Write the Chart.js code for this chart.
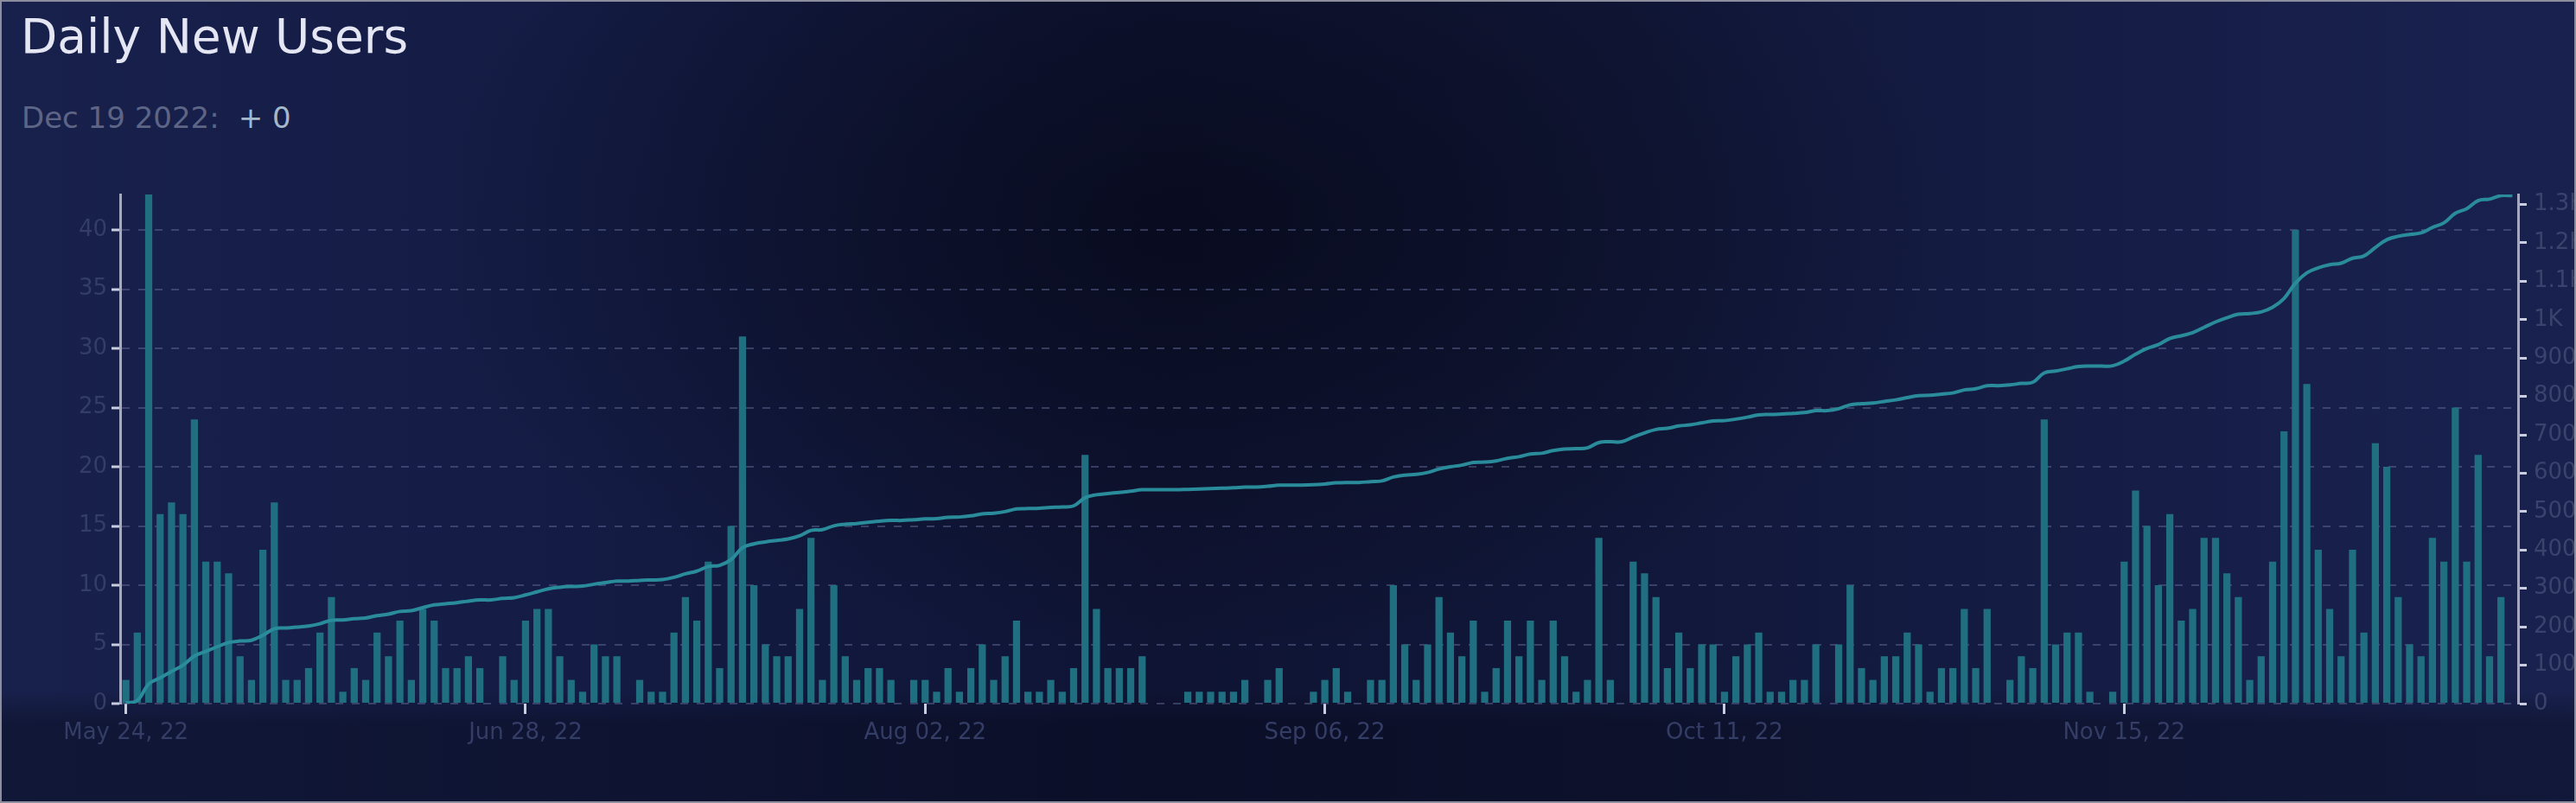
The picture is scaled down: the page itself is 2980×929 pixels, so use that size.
<!DOCTYPE html>
<html>
<head>
<meta charset="utf-8">
<title>Daily New Users</title>
<script src="https://cdn.jsdelivr.net/npm/chart.js@4.4.1/dist/chart.umd.min.js"></script>
<style>
  html, body { margin: 0; padding: 0; }
  body { width: 2980px; height: 929px; overflow: hidden; background: #10153a; }
  .frame {
    position: relative; width: 2980px; height: 929px; overflow: hidden;
    background:
      radial-gradient(ellipse 900px 500px at 46% 28%, rgba(6, 8, 22, 0.7) 0%, rgba(6, 8, 22, 0) 100%),
      linear-gradient(to bottom, rgba(4, 5, 16, 0) 0%, rgba(4, 5, 16, 0) 86%, rgba(4, 5, 16, 0.35) 90%, rgba(4, 5, 16, 0.35) 100%),
      linear-gradient(to right, #18214c 0%, #141c45 22%, #0f1434 45%, #111739 62%, #161e48 85%, #19224f 100%);
  }
  .edge { position: absolute; left: 0; top: 0; right: 0; bottom: 0; box-sizing: border-box; border: 2px solid #8c8e9e; pointer-events: none; }
  .title { position: absolute; left: 24px; top: 15px; font: 55px/1 "DejaVu Sans", sans-serif; color: #e4e6f4; white-space: nowrap; }
  .sub { position: absolute; left: 25px; top: 119px; font: 34px/1 "DejaVu Sans", sans-serif; color: #5d6586; white-space: nowrap; }
  .sub b { font-weight: normal; color: #a3b8cb; margin-left: 22px; }
  #usersChart { position: absolute; left: 0; top: 190px; }
</style>
</head>
<body>
<div class="frame">
  <div class="title">Daily New Users</div>
  <div class="sub">Dec 19 2022:<b>+ 0</b></div>
  <canvas id="usersChart" width="2980" height="739"></canvas>
  <div class="edge"></div>
</div>
<script>
// daily new users, one bar per day from May 24 2022
var dailyUsers = [2,6,43,16,17,16,24,12,12,11, 4,2,13,17,2,2,3,6,9,1, 3,2,6,4,7,2,8,7,3,3,
  4,3,0,4,2,7,8,8,4,2, 1,5,4,4,0,2,1,1,6,9, 7,12,3,15,31,10,5,4,4,8, 14,2,10,4,2,3,3,2,0,2,
  2,1,3,1,3,5,2,4,7,1, 1,2,1,3,21,8,3,3,3,4, 0,0,0,1,1,1,1,1,2,0, 2,3,0,0,1,2,3,1,0,2,
  2,10,5,2,5,9,6,4,7,1, 3,7,4,7,2,7,4,1,2,14, 2,0,12,11,9,3,6,3,5,5, 1,4,5,6,1,1,2,2,5,0,
  5,10,3,2,4,4,6,5,1,3, 3,8,3,8,0,2,4,3,24,5, 6,6,1,0,1,12,18,15,10,16, 7,8,14,14,11,9,2,4,12,23,
  40,27,13,8,4,13,6,22,20,9, 5,4,14,12,25,12,21,4,9,0];

// total users line (right axis)
var totalUsers = [2,8,51,67,84,100,124,136,148,159, 163,165,178,195,197,199,202,208,217,218,
  221,223,229,233,240,242,250,257,260,263, 267,270,270,274,276,283,291,299,303,305,
  306,311,315,319,319,321,322,323,329,338, 345,357,360,375,406,416,421,425,429,437,
  451,453,463,467,469,472,475,477,477,479, 481,482,485,486,489,494,496,500,507,508,
  509,511,512,515,536,544,547,550,553,557, 557,557,557,558,559,560,561,562,564,564,
  566,569,569,569,570,572,575,576,576,578, 580,590,595,597,602,611,617,621,628,629,
  632,639,643,650,652,659,663,664,666,680, 682,682,694,705,714,717,723,726,731,736,
  737,741,746,752,753,754,756,758,763,763, 768,778,781,783,787,791,797,802,803,806,
  809,817,820,828,828,830,834,837,861,866, 872,878,879,879,880,892,910,925,935,951,
  958,966,980,994,1005,1014,1016,1020,1032,1055, 1095,1122,1135,1143,1147,1160,1166,1188,1208,1217,
  1222,1226,1240,1252,1277,1289,1310,1314,1323,1323];

// dates shown under the x axis
var tickLabels = ['May 24, 22', 'Jun 28, 22', 'Aug 02, 22', 'Sep 06, 22', 'Oct 11, 22', 'Nov 15, 22'];

var monthNames = ['Jan','Feb','Mar','Apr','May','Jun','Jul','Aug','Sep','Oct','Nov','Dec'];
var firstDay = Date.UTC(2022, 4, 24);
var categories = dailyUsers.map(function (v, i) {
  var d = new Date(firstDay + i * 86400000);
  var dd = String(d.getUTCDate()).padStart(2, '0');
  return monthNames[d.getUTCMonth()] + ' ' + dd + ', ' + String(d.getUTCFullYear()).slice(2);
});

Chart.defaults.font.family = '"DejaVu Sans", sans-serif';

var ctx = document.getElementById('usersChart').getContext('2d');
var usersChart = new Chart(ctx, {
  type: 'bar',
  data: {
    labels: categories,
    datasets: [{
      type: 'line',
      label: 'Total users',
      data: totalUsers,
      yAxisID: 'y1',
      borderColor: '#2a8c9b',
      borderWidth: 4,
      pointRadius: 0,
      tension: 0.4,
      order: 0
    }, {
      label: 'New users',
      data: dailyUsers,
      yAxisID: 'y',
      backgroundColor: '#1f6f81',
      barPercentage: 0.68,
      categoryPercentage: 0.92,
      order: 1
    }]
  },
  options: {
    responsive: false,
    animation: false,
    devicePixelRatio: 1,
    layout: { padding: { top: 35, left: 0, right: 0, bottom: 0 } },
    plugins: { legend: { display: false }, tooltip: { enabled: false } },
    scales: {
      x: {
        grid: { display: true, drawOnChartArea: false, offset: false, tickLength: 12, tickWidth: 3, tickColor: '#c9cde0' },
        border: { display: false },
        ticks: { autoSkip: false, maxRotation: 0, padding: 7, color: '#343d66', font: { size: 26 } },
        afterBuildTicks: function (axis) {
          axis.ticks = axis.ticks.filter(function (t) { return tickLabels.indexOf(categories[t.value]) >= 0; });
        },
        afterFit: function (scale) { scale.height = 115; }
      },
      y: {
        position: 'left',
        min: 0,
        max: 43,
        grid: { color: 'rgba(105, 116, 160, 0.45)', lineWidth: 2, tickLength: 10, tickWidth: 3, tickColor: '#c9cde0' },
        border: { color: '#a4a8c2', width: 3, dash: [9, 10] },
        ticks: { stepSize: 5, includeBounds: false, padding: 5, color: '#333d65', font: { size: 26 } },
        afterFit: function (scale) { scale.width = 139; }
      },
      y1: {
        position: 'right',
        min: 0,
        max: 1326,
        grid: { drawOnChartArea: false, tickLength: 10, tickWidth: 3, tickColor: '#c9cde0' },
        border: { color: '#a4a8c2', width: 3 },
        ticks: {
          stepSize: 100, includeBounds: false, padding: 8, color: '#39436b', font: { size: 26 },
          callback: function (v) { return v >= 1000 ? (v / 1000) + 'K' : v; }
        },
        afterFit: function (scale) { scale.width = 67; }
      }
    }
  }
});
</script>
</body>
</html>
